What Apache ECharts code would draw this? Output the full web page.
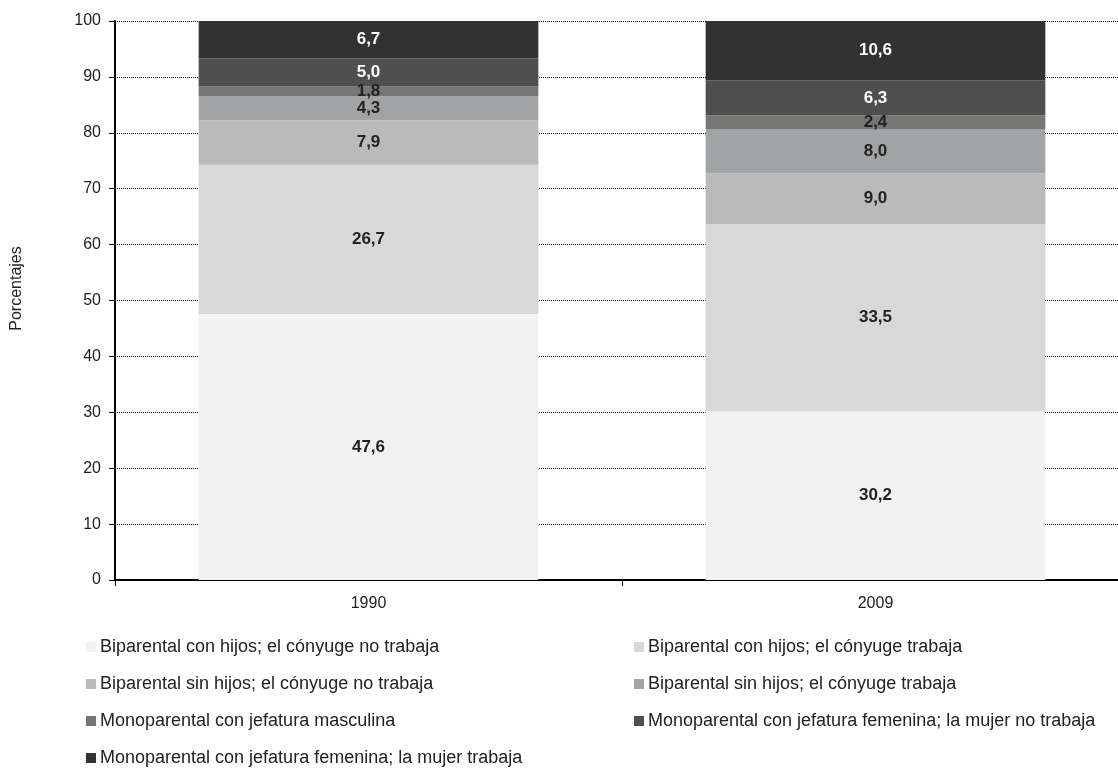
<!DOCTYPE html>
<html>
<head>
<meta charset="utf-8">
<script src="https://cdn.jsdelivr.net/npm/echarts@6/dist/echarts.min.js"></script>
<style>
  html, body { margin: 0; padding: 0; background: #fff; overflow: hidden; width: 1118px; height: 772px; }
  /* the plot runs slightly past the right edge of the page */
  #chart { width: 1129px; height: 772px; }
</style>
</head>
<body>
<div id="chart"></div>
<script>
// Household types by year (percent of households)
const years = ['1990', '2009'];
const seriesNames = [
  'Biparental con hijos; el cónyuge no trabaja',
  'Biparental con hijos; el cónyuge trabaja',
  'Biparental sin hijos; el cónyuge no trabaja',
  'Biparental sin hijos; el cónyuge trabaja',
  'Monoparental con jefatura masculina',
  'Monoparental con jefatura femenina; la mujer no trabaja',
  'Monoparental con jefatura femenina; la mujer trabaja'
];
const conHijosNoTrabaja = [47.6, 30.2];
const conHijosTrabaja = [26.7, 33.5];
const sinHijosNoTrabaja = [7.9, 9.0];
const sinHijosTrabaja = [4.3, 8.0];
const jefaturaMasculina = [1.8, 2.4];
const femeninaNoTrabaja = [5.0, 6.3];
const femeninaTrabaja = [6.7, 10.6];
const yTicks = [0, 10, 20, 30, 40, 50, 60, 70, 80, 90, 100];

const seriesValues = [conHijosNoTrabaja, conHijosTrabaja, sinHijosNoTrabaja, sinHijosTrabaja,
  jefaturaMasculina, femeninaNoTrabaja, femeninaTrabaja];
const colors = ['#f2f2f2', '#d8d8d8', '#bababa', '#a2a3a5', '#787674', '#4f4f4f', '#323232'];
const labelColors = ['#222', '#222', '#222', '#222', '#222', '#fff', '#fff'];

const FONT = '"Liberation Sans", Arial, sans-serif';

const chart = echarts.init(document.getElementById('chart'));

const series = seriesNames.map((name, i) => ({
  name: name,
  type: 'bar',
  stack: 'total',
  barWidth: '67%',
  data: seriesValues[i],
  itemStyle: { color: colors[i] },
  label: {
    show: true,
    position: 'inside',
    fontFamily: FONT,
    fontSize: 17,
    fontWeight: 'bold',
    color: labelColors[i],
    formatter: p => p.value.toFixed(1).replace('.', ',')
  },
  emphasis: { disabled: true }
}));

// Legend: two columns, one legend block per entry so rows line up across columns
const legendRows = [647, 684, 721, 758];
const legendCols = [86, 634];
const legends = seriesNames.map((name, i) => ({
  data: [name],
  left: legendCols[i % 2],
  top: legendRows[Math.floor(i / 2)] - 10,
  itemWidth: 10,
  itemHeight: 10,
  itemGap: 0,
  icon: 'rect',
  padding: 0,
  textStyle: { fontFamily: FONT, fontSize: 18, color: '#222', lineHeight: 20, padding: [0, 0, 0, -1] },
  selectedMode: false
}));

chart.setOption({
  animation: false,
  backgroundColor: '#fff',
  color: colors,
  grid: { left: 115, right: 0, top: 21, bottom: 192, containLabel: false },
  legend: legends,
  xAxis: {
    type: 'category',
    data: years,
    axisLine: { lineStyle: { color: '#000', width: 2 } },
    axisTick: { show: true, length: 6, lineStyle: { color: '#000', width: 1 } },
    axisLabel: { fontFamily: FONT, fontSize: 16, color: '#222', margin: 16 }
  },
  yAxis: {
    type: 'value',
    min: yTicks[0],
    max: yTicks[yTicks.length - 1],
    interval: yTicks[1] - yTicks[0],
    name: 'Porcentajes',
    nameLocation: 'middle',
    nameGap: 90,
    nameRotate: 90,
    nameTextStyle: { fontFamily: FONT, fontSize: 16, color: '#222', padding: [0, 0, 0, 24] },
    axisLine: { show: true, lineStyle: { color: '#000', width: 2 } },
    axisTick: { show: true, length: 6, lineStyle: { color: '#000' } },
    axisLabel: { fontFamily: FONT, fontSize: 16, color: '#222', margin: 14 },
    splitLine: { show: true, lineStyle: { color: '#000', type: [1, 1], width: 1 } }
  },
  series: series
});
</script>
</body>
</html>
